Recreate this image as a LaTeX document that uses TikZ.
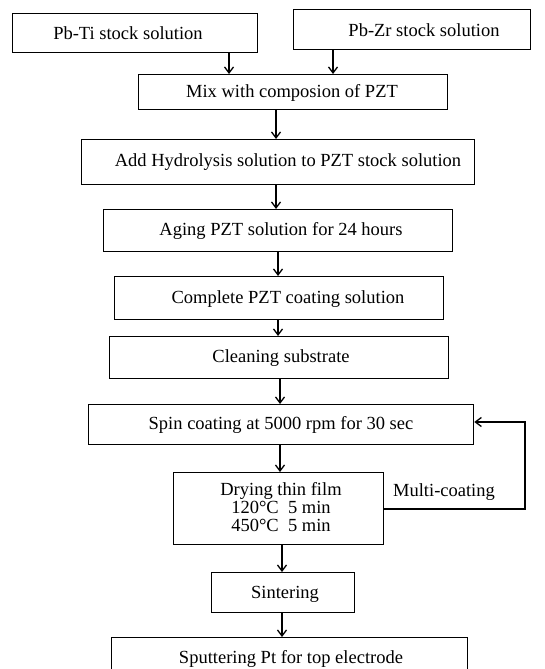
\documentclass[tikz,border=0pt]{standalone}
\usepackage{fontspec}
\setmainfont{Liberation Serif}
\usetikzlibrary{arrows.meta}
\begin{document}
\begin{tikzpicture}[x=1pt,y=-1pt,
  box/.style={draw, line width=1.3pt, inner sep=0pt, anchor=north west},
  lbl/.style={font=\fontsize{18.5}{18}\selectfont, inner sep=0pt, align=center},
  arr/.style={line width=1.3pt, -{Straight Barb[length=6pt,width=9pt,line width=1.3pt]}},
  link/.style={line width=1.3pt}]
\useasboundingbox (0,0) rectangle (545,669);
\clip (0,0) rectangle (545,669);
% boxes
\node[box, minimum width=245pt, minimum height=39pt] (pbti) at (12,13) {};
\node[box, minimum width=237pt, minimum height=40pt] (pbzr) at (293,9) {};
\node[box, minimum width=309pt, minimum height=35pt] (mix) at (138,74) {};
\node[box, minimum width=393pt, minimum height=45pt] (add) at (81,139) {};
\node[box, minimum width=349pt, minimum height=42pt] (aging) at (103,209) {};
\node[box, minimum width=329pt, minimum height=43pt] (complete) at (114,276) {};
\node[box, minimum width=339pt, minimum height=42pt] (clean) at (109,336) {};
\node[box, minimum width=385pt, minimum height=40pt] (spin) at (88,404) {};
\node[box, minimum width=210pt, minimum height=72pt] (dry) at (173,472) {};
\node[box, minimum width=143pt, minimum height=40pt] (sinter) at (211,572) {};
\node[box, minimum width=356pt, minimum height=44pt] (sputter) at (111,637) {};
% labels
\node[lbl] (tpbti) at (128,33) {Pb-Ti stock solution};
\node[lbl] (tpbzr) at (424,30) {Pb-Zr stock solution};
\node[lbl] (tmix) at (292,93) {Mix with composion of PZT};
\node[lbl] (tadd) at (288,162) {Add Hydrolysis solution to PZT stock solution};
\node[lbl] (taging) at (281,231) {Aging PZT solution for 24 hours};
\node[lbl] (tcomplete) at (288,299) {Complete PZT coating solution};
\node[lbl] (tclean) at (281,358) {Cleaning substrate};
\node[lbl] (tspin) at (281,425) {Spin coating at 5000 rpm for 30 sec};
\node[lbl] (tdry) at (281,507) {Drying thin film\\120°C\ \ 5 min\\450°C\ \ 5 min};
\node[lbl] (tsinter) at (285,594) {Sintering};
\node[lbl] (tsputter) at (291,659) {Sputtering Pt for top electrode};
\node[lbl] (tmulti) at (444,492) {Multi-coating};
% arrow x positions
\coordinate (x1) at (229,0);
\coordinate (x2) at (333,0);
\coordinate (x3) at (276,0);
\coordinate (x4) at (278,0);
\coordinate (x5) at (280,0);
\coordinate (x6) at (282,0);
\coordinate (lp1) at (525,509);
\coordinate (lp2) at (525,422);
% connectors
\draw[arr] (pbti.south -| x1) -- (mix.north -| x1);
\draw[arr] (pbzr.south -| x2) -- (mix.north -| x2);
\draw[arr] (mix.south -| x3) -- (add.north -| x3);
\draw[arr] (add.south -| x3) -- (aging.north -| x3);
\draw[arr] (aging.south -| x4) -- (complete.north -| x4);
\draw[arr] (complete.south -| x4) -- (clean.north -| x4);
\draw[arr] (clean.south -| x5) -- (spin.north -| x5);
\draw[arr] (spin.south -| x5) -- (dry.north -| x5);
\draw[arr] (dry.south -| x6) -- (sinter.north -| x6);
\draw[arr] (sinter.south -| x6) -- (sputter.north -| x6);
\draw[arr] (dry.east |- lp1) -- (lp1) -- (lp2) -- (spin.east |- lp2);
\end{tikzpicture}
\end{document}
